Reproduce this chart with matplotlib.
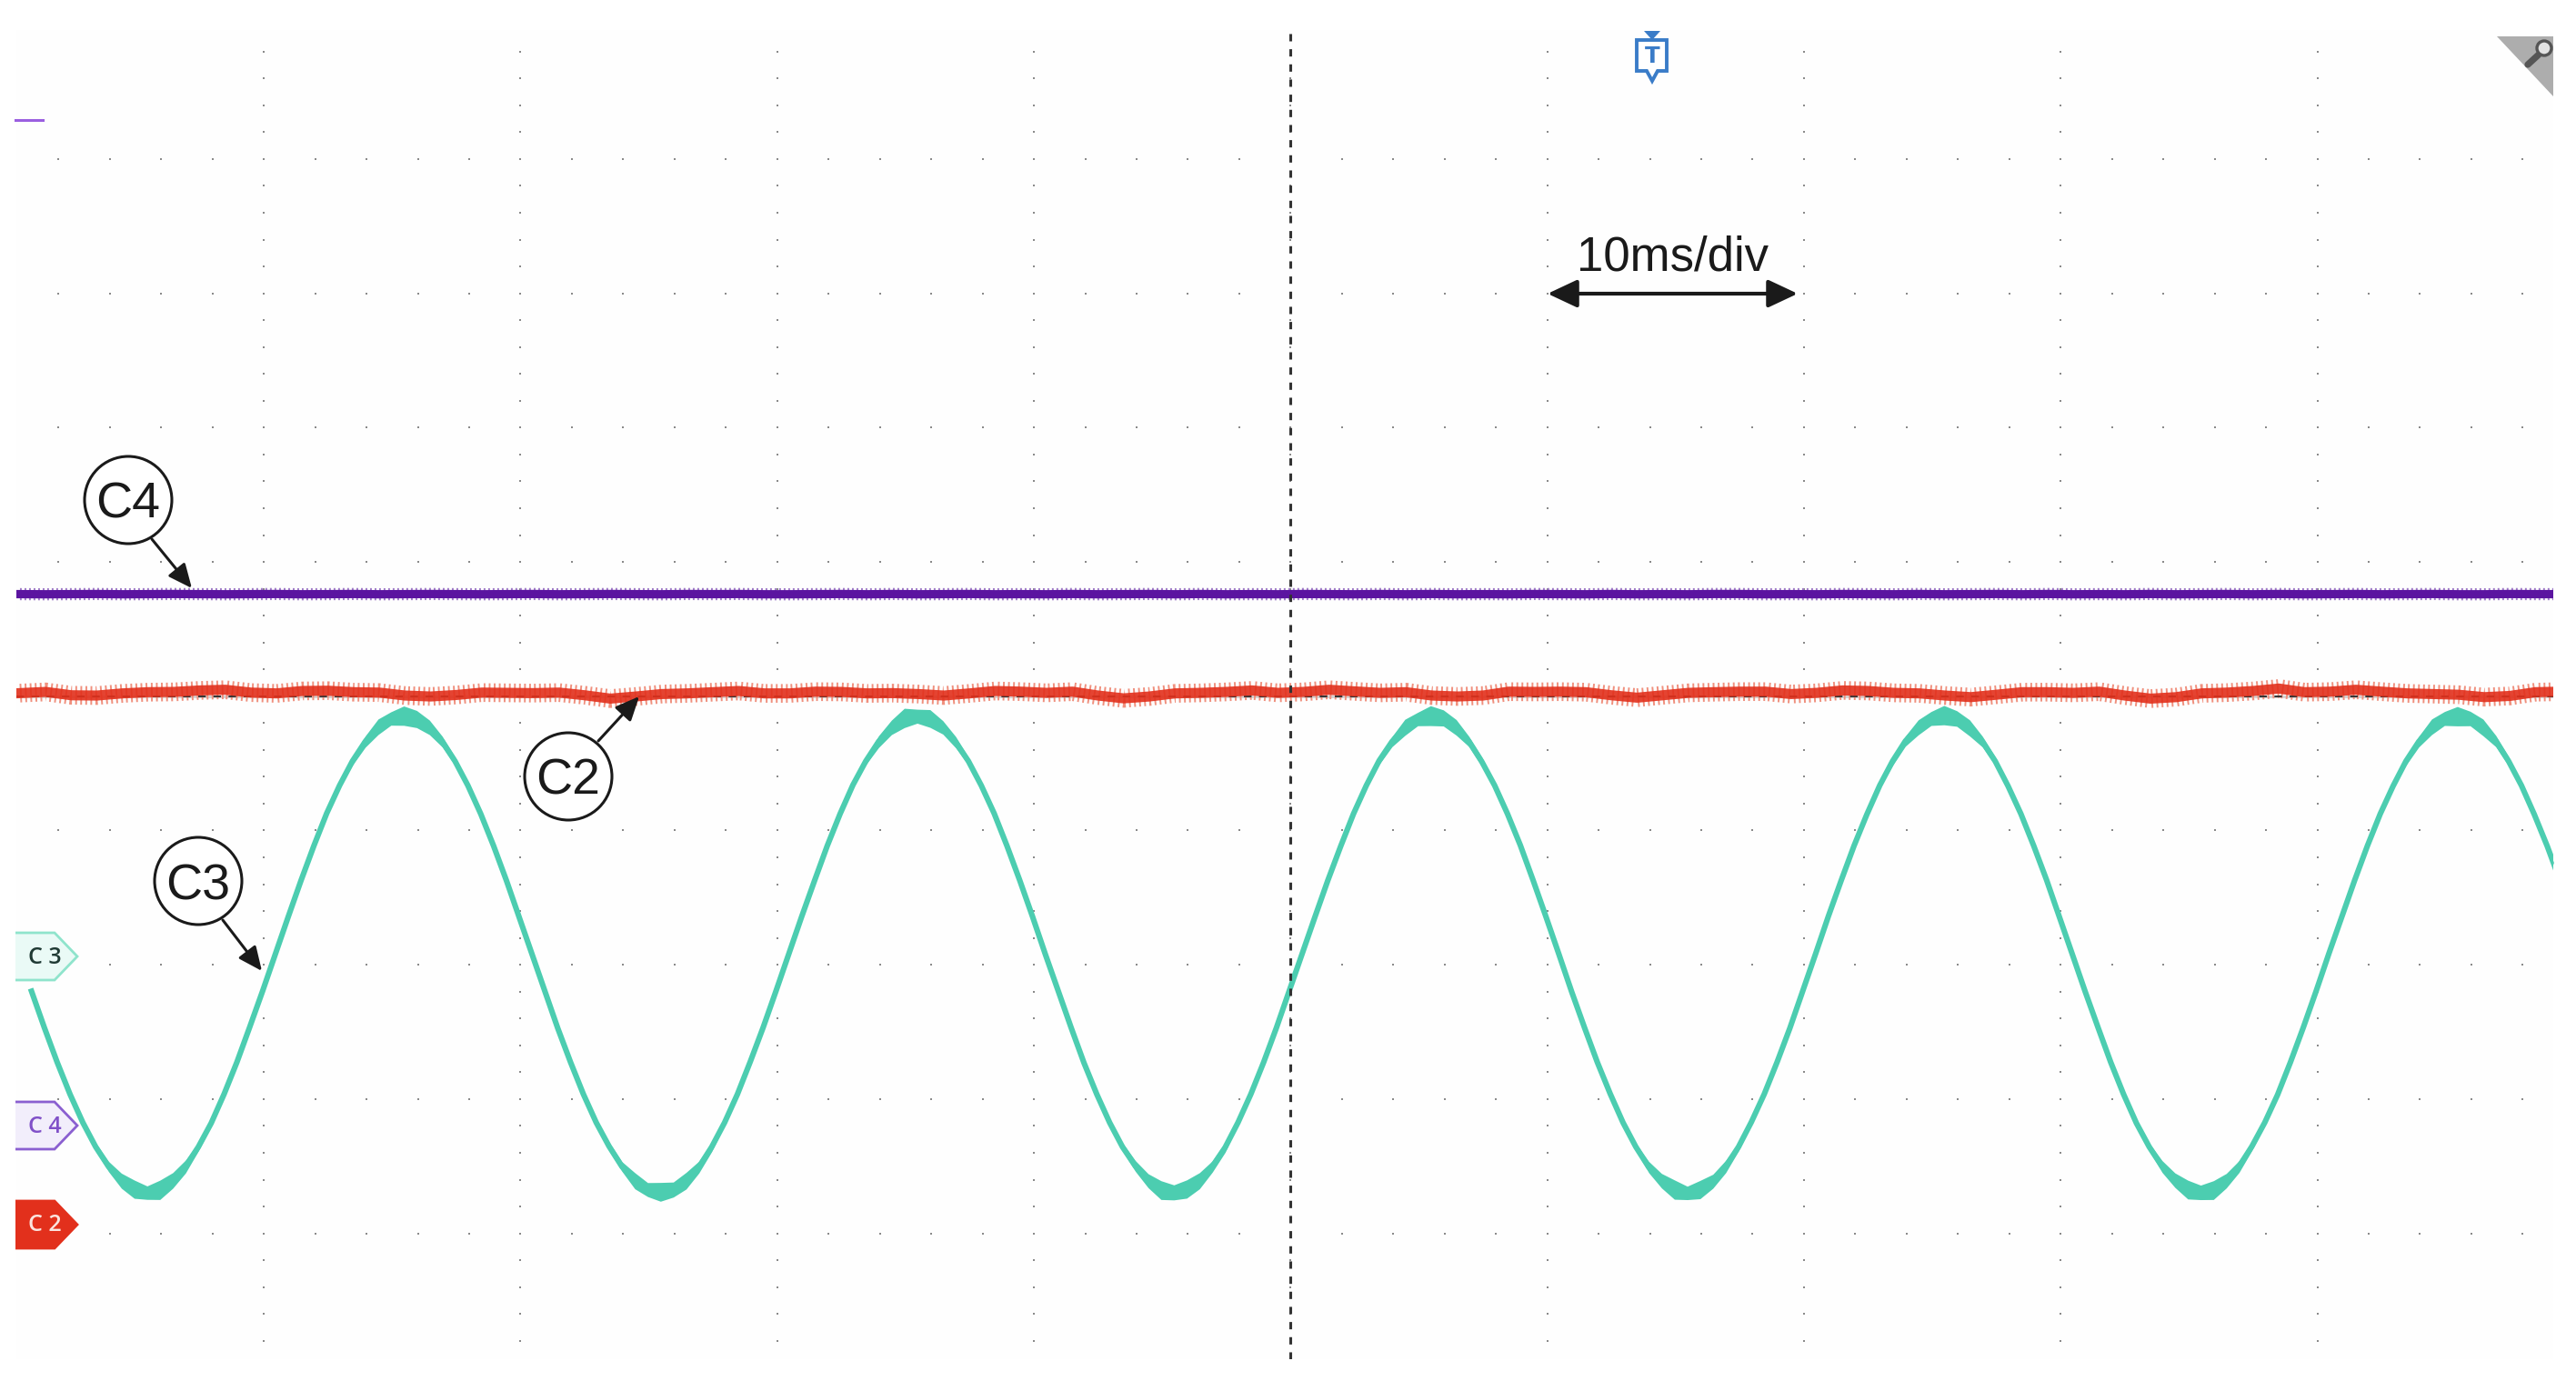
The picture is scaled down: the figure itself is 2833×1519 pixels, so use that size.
import numpy as np
import matplotlib
matplotlib.use("Agg")
import matplotlib.pyplot as plt
from matplotlib.patches import Circle, FancyArrowPatch, Polygon
from matplotlib.transforms import Affine2D

plt.rcParams["lines.scale_dashes"] = False

W, H = 2833, 1519

# Scope traces, time in ms and level in divisions from the screen centre
c4_level = [
    .760, .759, .760, .761, .759, .760, .761, .760, .759, .760,
    .761, .759, .760, .761, .759, .760, .761, .760, .759, .760,
    .761, .759, .760, .761, .760, .759, .761, .760, .761, .759,
    .759, .760, .761, .759, .761, .759, .760, .761, .759, .760,
    .759, .761, .759, .760, .761, .759, .761, .759, .760, .759,
    .761, .760, .759, .761, .759, .761, .759, .760, .759, .761,
    .760, .759, .761, .759, .760, .759, .761, .761, .759, .760,
    .759, .761, .760, .759, .761, .759, .760, .761, .759, .761,
    .759, .760, .759, .761, .759, .760, .761, .759, .761, .759,
    .760, .761, .759, .760, .761, .759, .759, .761, .760, .760,
]
c2_level = [
    .023, .032, .007, .005, .021, .030, .032, .043, .048, .027,
    .021, .039, .041, .030, .027, .005, -.002, .009, .027, .025,
    .023, .027, .007, -.018, -.002, .016, .021, .030, .039, .021,
    .021, .034, .032,
    .021, .023, .016, .005, .021, .039, .034, .025, .034, .005,
    -.016, -.002, .021, .025, .032, .043, .025, .032, .048, .036,
    .025, .030, .005, -.002, .005, .034, .032, .034, .030, .007,
    -.011, .007, .025, .030,
    .034, .034, .016, .025, .043, .039, .025, .021, .005, -.007,
    .011, .030, .030, .025, .034, .005, -.018, -.007, .021, .027,
    .039, .057, .030, .034, .048, .034, .021, .016, .011, -.007,
    .002, .030, .034,
]
c3_mid = [
    -2.197, -2.468, -2.726, -2.964, -3.175, -3.356, -3.502, -3.608, -3.671, -3.697,
    -3.676, -3.606, -3.502, -3.356, -3.179, -2.964, -2.726, -2.464, -2.197, -1.920,
    -1.643, -1.372, -1.114, -.872, -.665, -.484, -.338, -.228, -.166, -.145,
    -.170, -.232, -.338, -.484, -.665, -.876, -1.114, -1.372, -1.647, -1.920,
    -2.197, -2.472, -2.726, -2.964, -3.175, -3.352, -3.502, -3.608, -3.674, -3.691,
    -3.674, -3.608, -3.506, -3.356, -3.175, -2.964, -2.722, -2.468, -2.197, -1.920,
    -1.643, -1.376, -1.114, -.876, -.661, -.484, -.338, -.232, -.162, -.149,
    -.166, -.232, -.342, -.484, -.665, -.872, -1.114, -1.372, -1.643, -1.924,
    -2.197, -2.468, -2.730, -2.964, -3.175, -3.356, -3.498, -3.608, -3.678, -3.695,
    -3.670, -3.608, -3.502, -3.360, -3.175, -2.964, -2.726, -2.468, -2.193, -1.920,
    -1.643, -1.372, -1.118, -.876, -.665, -.480, -.338, -.232, -.170, -.145,
    -.162, -.232, -.338, -.488, -.665, -.876, -1.110, -1.372, -1.643, -1.920,
    -2.201, -2.468, -2.726, -2.960, -3.175, -3.356, -3.506, -3.608, -3.674, -3.699,
    -3.674, -3.612, -3.502, -3.356, -3.171, -2.964, -2.726, -2.472, -2.197, -1.920,
    -1.639, -1.372, -1.114, -.880, -.665, -.484, -.334, -.232, -.166, -.141,
    -.166, -.236, -.338, -.484, -.669, -.876, -1.114, -1.368, -1.643, -1.920,
    -2.197, -2.464, -2.726, -2.964, -3.179, -3.356, -3.502, -3.604, -3.674, -3.695,
    -3.678, -3.608, -3.502, -3.352, -3.175, -2.968, -2.726, -2.468, -2.197, -1.916,
    -1.643, -1.372, -1.114, -.876, -.669, -.484, -.338, -.228, -.166, -.149,
    -.166, -.232, -.334, -.484, -.665, -.880, -1.114, -1.372, -1.643, -1.920,
]
c3_spread = [
    .006, .008, .006, .012, .014, .030, .038, .056, .068, .050,
    .072, .058, .048, .030, .022, .012, .006, .008, .006, .006,
    .004, .008, .006, .012, .014, .030, .042, .058, .050, .072,
    .064, .054, .040, .032, .020, .012, .010, .006, .008, .006,
    .006, .010, .006, .016, .012, .032, .036, .060, .052, .070,
    .056, .062, .044, .034, .016, .014, .006, .006, .008, .004,
    .006, .006, .008, .012, .018, .026, .044, .054, .072, .052,
    .066, .050, .042, .028, .022, .010, .008, .010, .006, .008,
    .008, .006, .008, .012, .016, .030, .040, .052, .070, .056,
    .068, .060, .042, .036, .014, .016, .006, .008, .004, .006,
    .006, .010, .004, .016, .012, .028, .038, .060, .050, .074,
    .060, .058, .038, .034, .022, .010, .010, .006, .008, .006,
    .008, .006, .010, .010, .018, .026, .042, .054, .072, .050,
    .068, .052, .046, .030, .016, .012, .008, .006, .006, .008,
    .004, .008, .006, .014, .016, .032, .038, .056, .052, .072,
    .058, .060, .040, .032, .016, .014, .006, .010, .006, .006,
    .008, .006, .008, .014, .014, .028, .044, .054, .070, .054,
    .070, .054, .044, .030, .020, .012, .008, .006, .008, .004,
    .006, .008, .006, .012, .016, .030, .040, .058, .052, .072,
    .054, .062, .042, .034, .014, .016, .006, .010, .008, .006,
]

t_flat = np.linspace(-49.5, 49.5, len(c4_level))
t_c3 = np.linspace(-49.05, 50.45, len(c3_mid))

grid_x_major = np.arange(-40, 41, 10)
grid_x_minor = np.arange(-48, 49, 2)
grid_y_major = np.arange(-4, 5, 1)
grid_y_minor = np.arange(-48, 49, 2) / 10

C2_COLOR = "#e2301c"
C3_COLOR = "#4ccdb0"
C4_COLOR = "#5b14a0"
INK = "#1a1a1a"

fig = plt.figure(figsize=(W / 200, H / 200), dpi=200, facecolor="white")
ax = fig.add_axes([18 / W, 1 - 1495 / H, 2790 / W, 1462 / H])
ax.set_xlim(-49.64, 49.19)
ax.set_ylim(-4.937, 4.961)
ax.set_facecolor("#fefefe")
ax.set_xticks([])
ax.set_yticks([])
for side in ax.spines.values():
    side.set_visible(False)

# Graticule
for row in grid_y_major:
    ax.plot(grid_x_minor, np.full(len(grid_x_minor), row), ls="none",
            marker="s", ms=1.0, mew=0, color="#8a8a8a", zorder=1)
for col in grid_x_major:
    ax.plot(np.full(len(grid_y_minor), col), grid_y_minor, ls="none",
            marker="s", ms=1.0, mew=0, color="#8a8a8a", zorder=1)

# Traces
ax.axhline(0, color="#d4d4d4", lw=1.1, zorder=2)
ax.plot(t_flat, c4_level, color="#a07cc8", lw=4.8, dashes=(0.7, 1.1), zorder=3)
ax.plot(t_flat, c4_level, color=C4_COLOR, lw=3.3, zorder=4)
ax.plot(t_flat, c2_level, color="#f0907e", lw=7.4, dashes=(0.7, 1.3), zorder=3)
ax.axhline(0, color="#333333", lw=0.7, dashes=(3.0, 3.0), zorder=4)
ax.plot(t_flat, c2_level, color=C2_COLOR, lw=4.0, alpha=0.9, zorder=4)

mid = np.array(c3_mid)
spread = np.array(c3_spread)
ax.fill_between(t_c3, mid - spread, mid + spread, color=C3_COLOR, lw=0, zorder=3)
ax.plot(t_c3, mid, color=C3_COLOR, lw=2.2, zorder=3)

ax.axvline(0, color="#333333", lw=1.1, dashes=(2.9, 3.1), zorder=5)

# Everything below is placed in image pixels
px = Affine2D().scale(1 / W, -1 / H).translate(0, 1) + fig.transFigure


def arrow(start, end, style, width=1.1):
    fig.add_artist(FancyArrowPatch(start, end, transform=px, arrowstyle=style,
                                   mutation_scale=1, shrinkA=0, shrinkB=0,
                                   color=INK, lw=width, zorder=6))


def bubble(center, label):
    fig.add_artist(Circle(center, 48, transform=px, facecolor="white",
                          edgecolor=INK, lw=1.1, zorder=6))
    fig.text(center[0] / W, 1 - center[1] / H, label, fontsize=20,
             family="Liberation Sans", color=INK, ha="center",
             va="center_baseline", zorder=7)


def channel_tag(top, label, face, edge, text_color):
    bottom = top + 52
    pts = [(17, top), (60, top), (85, top + 26), (60, bottom), (17, bottom)]
    fig.add_artist(Polygon(pts, closed=False, transform=px, facecolor=face,
                           edgecolor=edge, lw=1.0, zorder=6))
    fig.text(49 / W, 1 - (top + 24) / H, label, fontsize=9, family="Open Sans",
             weight="semibold", color=text_color, ha="center",
             va="center_baseline", zorder=7)


thin_head = "-|>,head_length=8,head_width=3.6"
bubble((141, 550), "C4")
arrow((167, 593), (211, 647), thin_head)
bubble((625, 854), "C2")
arrow((658, 815), (703, 766), thin_head)
bubble((218, 969), "C3")
arrow((245, 1012), (288, 1068), thin_head)

# Time scale marker
arrow((1702, 323), (1977, 323), "<|-|>,head_length=10,head_width=4.7", width=1.5)
fig.text(1840 / W, 1 - 297 / H, "10ms/div", fontsize=19,
         family="Liberation Sans", color=INK, ha="center", va="baseline",
         zorder=7)

# Channel tags
channel_tag(1026, "C 3", "#eafaf6", "#8fe4cc", "#1f3a34")
channel_tag(1212, "C 4", "#f2eefb", "#8a5fd0", "#8050c8")
channel_tag(1321, "C 2", C2_COLOR, C2_COLOR, "#fbe4df")

# Small level marker, top left
fig.add_artist(plt.Line2D([17, 47], [132, 132], transform=px, color="#9a5fe0",
                          lw=1.1, zorder=6))

# Trigger marker
fig.add_artist(Polygon([(1808, 34), (1826, 34), (1817, 44)], closed=True,
                       transform=px, facecolor="#3a7cc8", lw=0, zorder=6))
fig.add_artist(Polygon([(1800, 44), (1833, 44), (1833, 78), (1823, 78),
                        (1817, 89), (1811, 78), (1800, 78)], closed=True,
                       transform=px, facecolor="white", edgecolor="#3a7cc8",
                       lw=1.4, zorder=6))
fig.text(1817 / W, 1 - 62 / H, "T", fontsize=8.8, family="DejaVu Sans",
         weight="bold", color="#3a7cc8", ha="center", va="center", zorder=7)

# Zoom corner
fig.add_artist(Polygon([(2746, 40), (2808, 40), (2808, 106)], closed=True,
                       transform=px, facecolor="#adadad", lw=0, zorder=6))
fig.add_artist(plt.Line2D([2780, 2792], [71, 60], transform=px, color="#555555",
                          lw=2.6, zorder=7, solid_capstyle="round"))
fig.add_artist(Circle((2798, 53), 8, transform=px, facecolor="#e2e2e2",
                      edgecolor="#555555", lw=1.2, zorder=7))

fig.savefig("out.png", dpi=200, facecolor="white")
